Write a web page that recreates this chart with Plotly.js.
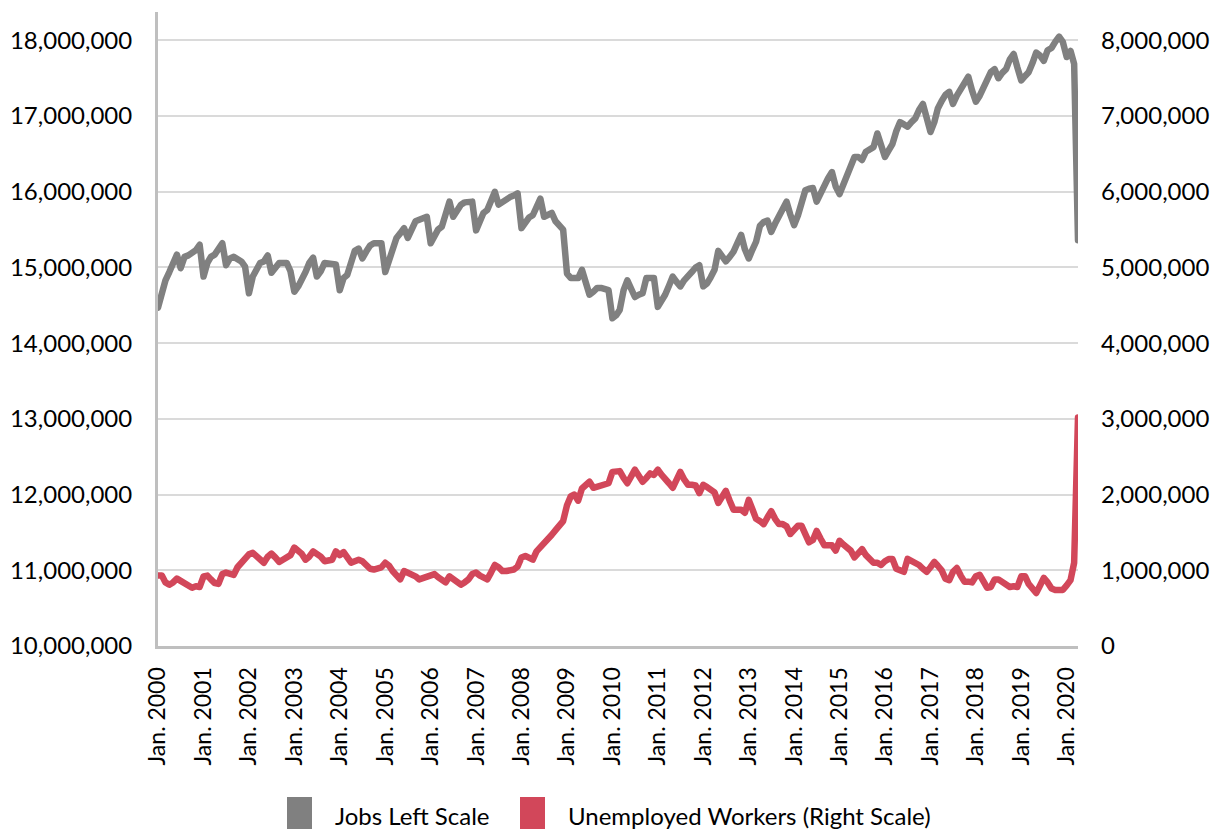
<!DOCTYPE html>
<html>
<head>
<meta charset="utf-8">
<script src="https://cdn.plot.ly/plotly-3.0.1.min.js"></script>
<style>
html,body{margin:0;padding:0;background:#fff;}
#chart{width:1231px;height:829px;}
path.js-line{stroke-linejoin:round !important;stroke-linecap:round !important;}
</style>
</head>
<body>
<div id="chart"></div>
<script>
// Monthly series, Jan 2000 .. Apr 2020 (values in millions)
const startYear = 2000;
const jobsM = [
  14.47, 14.70, 14.83, 14.94, 15.06, 15.17, 14.99, 15.14, 15.16, 15.19, 15.23, 15.30, // 2000
  14.88, 15.06, 15.14, 15.17, 15.23, 15.32, 15.03, 15.12, 15.14, 15.10, 15.08, 15.01, // 2001
  14.66, 14.88, 14.97, 15.06, 15.08, 15.16, 14.93, 15.01, 15.06, 15.06, 15.06, 14.95, // 2002
  14.68, 14.75, 14.83, 14.94, 15.06, 15.13, 14.88, 14.95, 15.06, 15.06, 15.06, 15.04, // 2003
  14.70, 14.86, 14.90, 15.06, 15.22, 15.25, 15.12, 15.21, 15.29, 15.32, 15.32, 15.32, // 2004
  14.94, 15.10, 15.27, 15.39, 15.45, 15.52, 15.39, 15.52, 15.61, 15.63, 15.65, 15.67, // 2005
  15.32, 15.41, 15.50, 15.54, 15.69, 15.87, 15.67, 15.76, 15.83, 15.86, 15.86, 15.87, // 2006
  15.49, 15.63, 15.72, 15.76, 15.87, 16.00, 15.83, 15.87, 15.91, 15.93, 15.95, 15.98, // 2007
  15.52, 15.61, 15.66, 15.69, 15.80, 15.91, 15.67, 15.69, 15.72, 15.61, 15.55, 15.50, // 2008
  14.92, 14.86, 14.86, 14.86, 14.97, 14.79, 14.64, 14.68, 14.73, 14.73, 14.72, 14.70, // 2009
  14.33, 14.37, 14.44, 14.70, 14.83, 14.73, 14.61, 14.64, 14.66, 14.86, 14.86, 14.86, // 2010
  14.48, 14.55, 14.64, 14.76, 14.88, 14.81, 14.75, 14.83, 14.90, 14.94, 15.00, 15.03, // 2011
  14.75, 14.79, 14.87, 14.97, 15.22, 15.15, 15.08, 15.14, 15.21, 15.32, 15.43, 15.24, // 2012
  15.12, 15.24, 15.34, 15.55, 15.60, 15.62, 15.47, 15.58, 15.68, 15.78, 15.87, 15.70, // 2013
  15.56, 15.69, 15.85, 16.02, 16.04, 16.05, 15.87, 15.98, 16.11, 16.18, 16.26, 16.07, // 2014
  15.97, 16.10, 16.22, 16.36, 16.46, 16.46, 16.42, 16.53, 16.56, 16.59, 16.77, 16.60, // 2015
  16.46, 16.55, 16.63, 16.80, 16.92, 16.89, 16.86, 16.92, 16.97, 17.08, 17.16, 16.98, // 2016
  16.79, 16.92, 17.10, 17.20, 17.28, 17.32, 17.16, 17.27, 17.36, 17.46, 17.52, 17.34, // 2017
  17.19, 17.27, 17.36, 17.48, 17.58, 17.62, 17.50, 17.57, 17.62, 17.75, 17.82, 17.64, // 2018
  17.47, 17.53, 17.58, 17.70, 17.84, 17.80, 17.73, 17.87, 17.90, 17.98, 18.05, 17.98, // 2019
  17.78, 17.86, 17.69, 15.36                                                          // 2020
];
const unemployedM = [
  0.93, 0.93, 0.84, 0.81, 0.84, 0.89, 0.86, 0.83, 0.79, 0.77, 0.79, 0.78, // 2000
  0.92, 0.93, 0.88, 0.83, 0.82, 0.95, 0.97, 0.96, 0.94, 1.04, 1.10, 1.18, // 2001
  1.21, 1.23, 1.18, 1.14, 1.10, 1.18, 1.22, 1.17, 1.11, 1.14, 1.17, 1.20, // 2002
  1.30, 1.26, 1.22, 1.14, 1.18, 1.25, 1.22, 1.18, 1.12, 1.13, 1.14, 1.25, // 2003
  1.20, 1.24, 1.17, 1.10, 1.12, 1.14, 1.12, 1.07, 1.02, 1.01, 1.02, 1.04, // 2004
  1.10, 1.06, 0.99, 0.94, 0.88, 0.99, 0.97, 0.95, 0.92, 0.88, 0.90, 0.92, // 2005
  0.93, 0.95, 0.91, 0.88, 0.84, 0.92, 0.88, 0.85, 0.81, 0.84, 0.88, 0.95, // 2006
  0.97, 0.93, 0.90, 0.88, 0.97, 1.07, 1.04, 0.99, 0.99, 0.99, 1.01, 1.05, // 2007
  1.17, 1.19, 1.16, 1.14, 1.25, 1.30, 1.35, 1.42, 1.47, 1.53, 1.58, 1.65, // 2008
  1.86, 1.98, 2.00, 1.92, 2.08, 2.14, 2.17, 2.09, 2.10, 2.13, 2.14, 2.15, // 2009
  2.30, 2.31, 2.31, 2.22, 2.15, 2.24, 2.33, 2.25, 2.17, 2.22, 2.28, 2.26, // 2010
  2.33, 2.26, 2.22, 2.15, 2.09, 2.18, 2.30, 2.20, 2.13, 2.13, 2.12, 2.02, // 2011
  2.13, 2.10, 2.07, 2.03, 1.89, 1.97, 2.05, 1.92, 1.80, 1.80, 1.80, 1.76, // 2012
  1.93, 1.80, 1.68, 1.65, 1.61, 1.70, 1.78, 1.68, 1.61, 1.61, 1.58, 1.48, // 2013
  1.55, 1.59, 1.59, 1.50, 1.37, 1.40, 1.52, 1.42, 1.33, 1.33, 1.33, 1.26, // 2014
  1.39, 1.34, 1.30, 1.26, 1.17, 1.22, 1.28, 1.20, 1.15, 1.10, 1.10, 1.07, // 2015
  1.12, 1.15, 1.15, 1.02, 1.00, 0.98, 1.15, 1.13, 1.11, 1.07, 1.02, 0.98, // 2016
  1.04, 1.11, 1.06, 1.00, 0.89, 0.87, 0.98, 1.03, 0.93, 0.85, 0.85, 0.84, // 2017
  0.92, 0.94, 0.86, 0.77, 0.78, 0.88, 0.88, 0.84, 0.80, 0.78, 0.79, 0.78, // 2018
  0.92, 0.92, 0.82, 0.74, 0.70, 0.80, 0.90, 0.84, 0.76, 0.74, 0.74, 0.74, // 2019
  0.80, 0.87, 1.10, 3.02                                                  // 2020
];
const tickYears = [2000,2001,2002,2003,2004,2005,2006,2007,2008,2009,2010,2011,2012,2013,2014,2015,2016,2017,2018,2019,2020];
const tickLabels = ["Jan. 2000","Jan. 2001","Jan. 2002","Jan. 2003","Jan. 2004","Jan. 2005","Jan. 2006","Jan. 2007","Jan. 2008","Jan. 2009","Jan. 2010","Jan. 2011","Jan. 2012","Jan. 2013","Jan. 2014","Jan. 2015","Jan. 2016","Jan. 2017","Jan. 2018","Jan. 2019","Jan. 2020"];
const leftTicks = [10000000,11000000,12000000,13000000,14000000,15000000,16000000,17000000,18000000];
const rightTicks = [0,1000000,2000000,3000000,4000000,5000000,6000000,7000000,8000000];
const seriesNames = ["Jobs Left Scale", "Unemployed Workers (Right Scale)"];
const seriesColors = ["#808080", "#d2475a"];

// dates for each month
const dates = [];
for (let i = 0; i < jobsM.length; i++) {
  const y = startYear + Math.floor(i / 12);
  const m = (i % 12) + 1;
  dates.push(y + "-" + String(m).padStart(2, "0") + "-01");
}
const toUnits = a => a.map(v => Math.round(v * 1e6));

const FONT = "Lato, 'Noto Sans', sans-serif";

const traces = [
  { x: dates, y: toUnits(unemployedM), type: "scatter", mode: "lines", yaxis: "y2",
    name: seriesNames[1], line: { color: seriesColors[1], width: 6.5 }, showlegend: false },
  { x: dates, y: toUnits(jobsM), type: "scatter", mode: "lines", yaxis: "y",
    name: seriesNames[0], line: { color: seriesColors[0], width: 6.5 }, showlegend: false }
];

const L = 158, R = 1078, T = 12, B = 646;
const px = x => (x - L) / (R - L);
const py = y => (B - y) / (B - T);

const layout = {
  width: 1231, height: 829,
  margin: { l: L, r: 1231 - R, t: T, b: 829 - B },
  paper_bgcolor: "#ffffff", plot_bgcolor: "#ffffff",
  font: { family: FONT, size: 24, color: "#000000" },
  showlegend: false,
  xaxis: {
    type: "date",
    range: ["2000-01-01", "2020-04-01"],
    tickvals: tickYears.map(y => y + "-01-01"),
    ticktext: tickLabels,
    tickangle: -90,
    tickfont: { family: FONT, size: 23, color: "#000" },
    showgrid: false, zeroline: false,
    showline: true, linecolor: "#bfbfbf", linewidth: 3,
    ticks: "", ticklabelstandoff: 9
  },
  yaxis: {
    range: [10000000, 18375000],
    tickvals: leftTicks,
    tickformat: ",d",
    tickfont: { family: FONT, size: 24, color: "#000" },
    showgrid: true, gridcolor: "#dadada", gridwidth: 2,
    zeroline: false, showline: true, linecolor: "#bfbfbf", linewidth: 3,
    ticks: "", ticklabelstandoff: 18
  },
  yaxis2: {
    overlaying: "y", side: "right", anchor: "x",
    range: [0, 8375000],
    tickvals: rightTicks,
    tickformat: ",d",
    tickfont: { family: FONT, size: 24, color: "#000" },
    showgrid: false, zeroline: false, showline: false,
    ticks: "", ticklabelstandoff: 22
  },
  shapes: [
    { type: "rect", xref: "paper", yref: "paper", x0: px(287), x1: px(312), y0: py(797), y1: py(840),
      fillcolor: seriesColors[0], line: { width: 0 } },
    { type: "rect", xref: "paper", yref: "paper", x0: px(520), x1: px(545), y0: py(797), y1: py(840),
      fillcolor: seriesColors[1], line: { width: 0 } }
  ],
  annotations: [
    { xref: "paper", yref: "paper", x: px(333), y: py(815), xanchor: "left", yanchor: "middle",
      text: seriesNames[0], showarrow: false, font: { family: FONT, size: 24, color: "#000" } },
    { xref: "paper", yref: "paper", x: px(566), y: py(815), xanchor: "left", yanchor: "middle",
      text: seriesNames[1], showarrow: false, font: { family: FONT, size: 24, color: "#000" } }
  ]
};

Plotly.newPlot("chart", traces, layout, { displayModeBar: false, staticPlot: true });
</script>
</body>
</html>
